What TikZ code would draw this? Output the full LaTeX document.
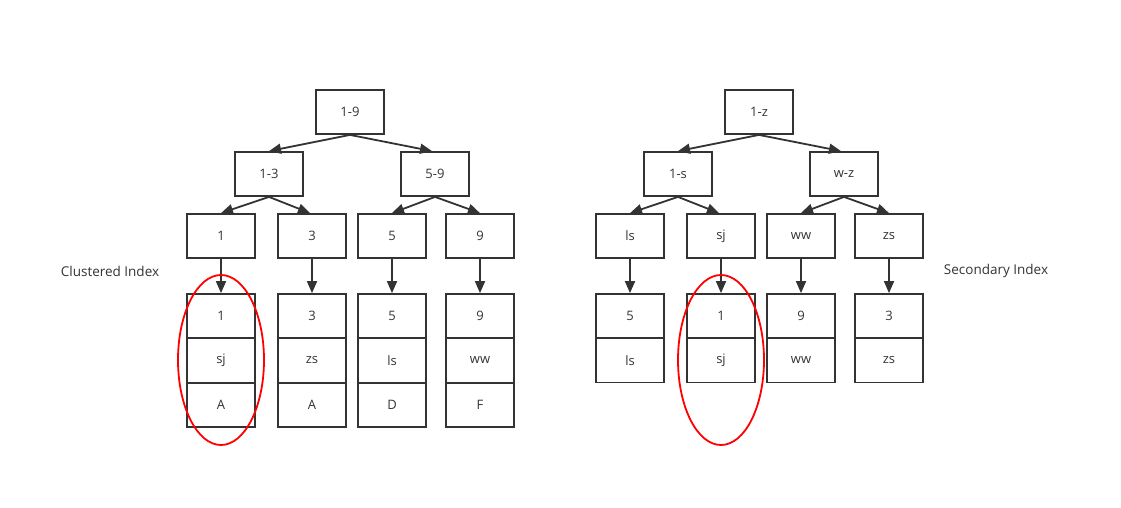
\documentclass[tikz,border=0pt]{standalone}
\usepackage{fontspec}
\setmainfont{Open Sans}
\usetikzlibrary{arrows.meta,shapes.geometric}
\definecolor{ink}{HTML}{333333}
\tikzset{
  box/.style={draw=ink, line width=1.8pt, minimum width=68pt, minimum height=44pt, inner sep=0pt, text=ink, font=\fontsize{13}{15}\selectfont},
  conn/.style={draw=ink, line width=1.8pt, -{Triangle[length=12pt,width=10pt]}},
  lbl/.style={text=ink, font=\fontsize{13.5}{15}\selectfont, inner sep=0pt},
  ring/.style={draw=red, line width=1.8pt}
}
\begin{document}
\begin{tikzpicture}[x=1pt,y=-1pt]
\useasboundingbox (0,0) rectangle (1121,508);
% left tree
\node[box] (r1) at (350,112) {1-9};
\node[box] (a13) at (269,174) {1-3};
\node[box] (a59) at (435,174) {5-9};
\node[box] (b1) at (221,236) {1};
\node[box] (b3) at (312,236) {3};
\node[box] (b5) at (392,236) {5};
\node[box] (b9) at (480,236) {9};
\node[box] (c1a) at (221,316) {1};
\node[box] (c1b) at (221,360.5) {sj};
\node[box] (c1c) at (221,405) {A};
\node[box] (c3a) at (312,316) {3};
\node[box] (c3b) at (312,360.5) {zs};
\node[box] (c3c) at (312,405) {A};
\node[box] (c5a) at (392,316) {5};
\node[box] (c5b) at (392,360.5) {ls};
\node[box] (c5c) at (392,405) {D};
\node[box] (c9a) at (480,316) {9};
\node[box] (c9b) at (480,360.5) {ww};
\node[box] (c9c) at (480,405) {F};
\draw[conn] (r1.south) -- (a13.north);
\draw[conn] (r1.south) -- ([xshift=-3pt]a59.north);
\draw[conn] (a13.south) -- (b1.north);
\draw[conn] (a13.south) -- ([xshift=-2pt]b3.north);
\draw[conn] (a59.south) -- (b5.north);
\draw[conn] (a59.south) -- (b9.north);
\draw[conn] (b1.south) -- (c1a.north);
\draw[conn] (b3.south) -- (c3a.north);
\draw[conn] (b5.south) -- (c5a.north);
\draw[conn] (b9.south) -- (c9a.north);
\node[lbl] (cl) at (110,271) {Clustered Index};
\node[ring, ellipse, minimum width=86pt, minimum height=170pt, inner sep=0pt] (e1) at (221,360) {};
% right tree
\node[box] (r2) at (759,112) {1-z};
\node[box] (d1s) at (678,174) {1-s};
\node[box] (dwz) at (844,174) {w-z};
\node[box] (els) at (630,236) {ls};
\node[box] (esj) at (721,236) {sj};
\node[box] (eww) at (801,236) {ww};
\node[box] (ezs) at (889,236) {zs};
\node[box] (f1a) at (630,316) {5};
\node[box] (f1b) at (630,360.5) {ls};
\node[box] (f2a) at (721,316) {1};
\node[box] (f2b) at (721,360.5) {sj};
\node[box] (f3a) at (801,316) {9};
\node[box] (f3b) at (801,360.5) {ww};
\node[box] (f4a) at (889,316) {3};
\node[box] (f4b) at (889,360.5) {zs};
\draw[conn] (r2.south) -- (d1s.north);
\draw[conn] (r2.south) -- ([xshift=-3pt]dwz.north);
\draw[conn] (d1s.south) -- (els.north);
\draw[conn] (d1s.south) -- ([xshift=-2pt]esj.north);
\draw[conn] (dwz.south) -- (eww.north);
\draw[conn] (dwz.south) -- (ezs.north);
\draw[conn] (els.south) -- (f1a.north);
\draw[conn] (esj.south) -- (f2a.north);
\draw[conn] (eww.south) -- (f3a.north);
\draw[conn] (ezs.south) -- (f4a.north);
\node[lbl] (sl) at (996,271) {Secondary Index};
\node[ring, ellipse, minimum width=86pt, minimum height=170pt, inner sep=0pt] (e2) at (721,360) {};
\end{tikzpicture}
\end{document}
